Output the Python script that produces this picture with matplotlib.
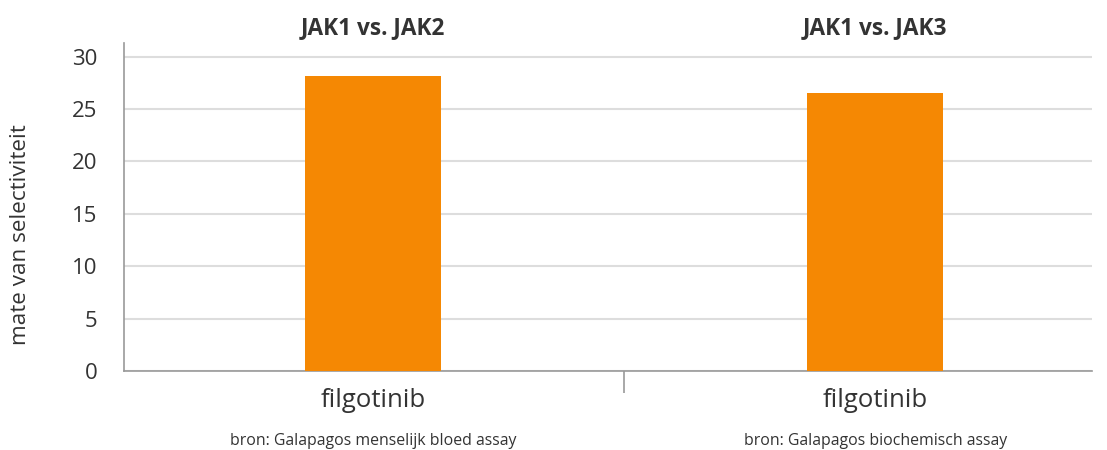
import matplotlib.pyplot as plt

plt.rcParams['font.family'] = ['Open Sans', 'DejaVu Sans']

# data
groups = ["JAK1 vs. JAK2", "JAK1 vs. JAK3"]
drug_labels = ["filgotinib", "filgotinib"]
values = [28.2, 26.5]
sources = ["bron: Galapagos menselijk bloed assay", "bron: Galapagos biochemisch assay"]

text_color = "#333333"
bar_color = "#F58803"

fig = plt.figure(figsize=(11.07, 4.5), dpi=100)
ax = fig.add_axes([0.112, 0.1756, 0.8745, 0.7288])

x = list(range(len(values)))
ax.bar(x, values, width=0.27, color=bar_color, zorder=3)

ax.set_xlim(-0.496, 1.432)
ax.set_ylim(0, 31.3)
ax.set_yticks([0, 5, 10, 15, 20, 25, 30])
ax.yaxis.grid(True, color="#dddddd", linewidth=1.5, zorder=0)

ax.set_xticks(x)
ax.set_xticklabels(drug_labels)
ax.set_xticks([0.5], minor=True)
ax.tick_params(axis='x', which='major', length=0, pad=12, labelsize=18.5, labelcolor=text_color)
ax.tick_params(axis='x', which='minor', length=16, width=1.2, color="#999999")
ax.tick_params(axis='y', length=0, pad=19, labelsize=16, labelcolor=text_color)

for s in ["top", "right"]:
    ax.spines[s].set_visible(False)
ax.spines["left"].set_color("#999999")
ax.spines["bottom"].set_color("#999999")
ax.spines["left"].set_linewidth(1.2)
ax.spines["bottom"].set_linewidth(1.2)

fig.text(21 / 1107, 1 - 235 / 450, "mate van selectiviteit", rotation=90,
         ha="center", va="center", fontsize=16.2, color=text_color)

for i, g in enumerate(groups):
    ax.text(i, 1.01, g, transform=ax.get_xaxis_transform(), ha="center", va="bottom",
            fontsize=16.3, fontweight="bold", color=text_color)
    ax.text(i, -0.238, sources[i], transform=ax.get_xaxis_transform(), ha="center", va="bottom",
            fontsize=11.4, color=text_color)

fig.savefig("out.png", dpi=100)
